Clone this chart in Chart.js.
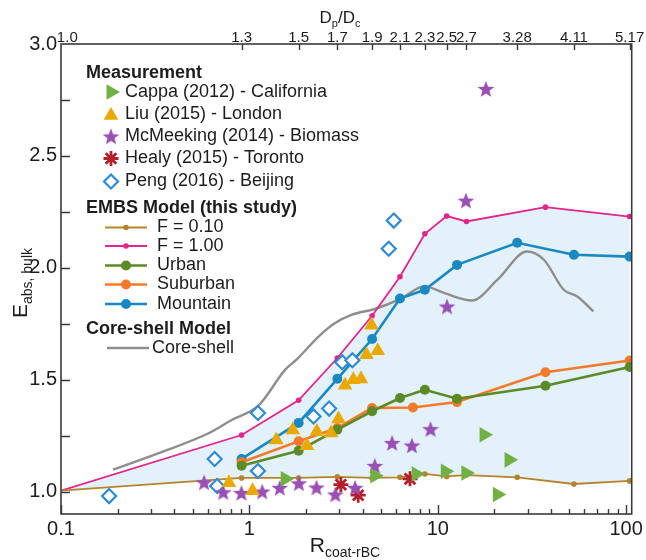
<!DOCTYPE html>
<html>
<head>
<meta charset="utf-8">
<script src="https://cdn.jsdelivr.net/npm/chart.js@4/dist/chart.umd.min.js"></script>
<style>
  html, body { margin: 0; padding: 0; background: #ffffff; }
  #wrap { width: 646px; height: 560px; }
</style>
</head>
<body>
<div id="wrap"><canvas id="c" width="646" height="560"></canvas></div>
<script>
// ---- axis ticks ----
// R_coat-rBC values where the D_p/D_c labels of the top axis sit
const topTickR = [0.108, 0.909, 1.825, 2.93, 4.48, 6.30, 8.54, 11.15, 14.2, 26.4, 52.8, 104.3];
const topTickLabels = ['1.0', '1.3', '1.5', '1.7', '1.9', '2.1', '2.3', '2.5', '2.7', '3.28', '4.11', '5.17'];
const bottomTicks = [0.1, 1, 10, 100];
const bottomTickLabels = ['0.1', '1', '10', '100'];
const yTicks = [1.0, 1.5, 2.0, 2.5, 3.0];

// ---- measurements: [R_coat-rBC, E_abs,bulk] ----
const cappa = [[1.55, 1.057], [4.63, 1.071], [7.68, 1.079], [10.96, 1.091], [14.1, 1.083], [17.6, 1.254], [20.7, 0.987], [23.9, 1.142]];
const liu = [[0.779, 1.040], [1.04, 1.004], [1.39, 1.231], [1.70, 1.275], [2.02, 1.205], [2.28, 1.269], [2.71, 1.262], [2.97, 1.325],
             [3.22, 1.475], [3.56, 1.500], [3.91, 1.503], [4.18, 1.612], [4.45, 1.743], [4.80, 1.629]];
const mcmeeking = [[0.575, 1.041], [0.727, 0.997], [0.907, 0.994], [1.17, 1.000], [1.45, 1.017], [1.83, 1.037], [2.27, 1.018], [2.86, 0.987],
                   [3.64, 1.017], [4.63, 1.115], [5.72, 1.217], [7.29, 1.206], [9.15, 1.279], [11.2, 1.827], [14.1, 2.300], [18.0, 2.799]];
const healy = [[3.06, 1.031], [3.78, 0.984], [7.12, 1.057]];
const peng = [[0.180, 0.980], [0.654, 1.146], [0.674, 1.025], [1.11, 1.092], [1.11, 1.351], [2.19, 1.336], [2.65, 1.371],
              [3.11, 1.578], [3.52, 1.587], [5.49, 2.085], [5.84, 2.211]];

// ---- EMBS model ----
const f010R = [0.1, 0.909, 1.825, 2.93, 4.48, 6.30, 8.54, 11.15, 14.2, 26.4, 52.8, 104.3];
const f010E = [1.004, 1.061, 1.061, 1.066, 1.061, 1.064, 1.079, 1.068, 1.074, 1.064, 1.034, 1.048];
const f100R = [0.1, 0.909, 1.825, 2.93, 4.48, 6.30, 8.54, 11.15, 14.2, 37.3, 104.3];
const f100E = [1.004, 1.253, 1.408, 1.597, 1.786, 1.960, 2.152, 2.231, 2.207, 2.271, 2.229];
const urbanR = [0.909, 1.825, 2.93, 4.48, 6.30, 8.54, 12.65, 37.3, 104.3];
const urbanE = [1.116, 1.183, 1.277, 1.359, 1.418, 1.455, 1.415, 1.473, 1.557];
const suburbanR = [0.909, 1.825, 2.93, 4.48, 7.38, 12.65, 37.3, 104.3];
const suburbanE = [1.131, 1.225, 1.284, 1.374, 1.376, 1.400, 1.533, 1.586];
const mountainR = [0.909, 1.825, 2.93, 4.48, 6.30, 8.54, 12.65, 26.4, 52.8, 104.3];
const mountainE = [1.146, 1.307, 1.504, 1.682, 1.863, 1.902, 2.013, 2.112, 2.058, 2.050];

// ---- core-shell model ----
const coreR = [0.189, 0.333, 0.611, 0.81, 1.12, 1.55, 1.79, 2.33, 2.85, 3.48, 4.63, 6.3, 8.5, 10.85, 15.2, 20.7, 29.8, 36.6, 46.6, 55, 67];
const coreE = [1.098, 1.173, 1.262, 1.321, 1.385, 1.545, 1.592, 1.693, 1.753, 1.790, 1.816, 1.860, 1.917, 1.887, 1.854, 1.946, 2.073, 2.036, 1.902, 1.872, 1.805];

// ---- styling ----
const FONT = "'Liberation Sans', Arial, Helvetica, sans-serif";
const TEXT = '#1c1c1c';
const AXIS = '#3a3a3a';
const COL = {
  cappa: '#72B043', liu: '#E9A900', mcm: '#9A4FB4', healy: '#B2202B', peng: '#2E8BD3',
  f010: '#B3832E', f100: '#E3248D', urban: '#5C8A26', suburban: '#F47A2B', mountain: '#1B89C1',
  core: '#8E8E8E', band: '#E2F1FA'
};

const toPts = a => a.map(([x, y]) => ({ x, y }));
const zip = (xs, ys) => xs.map((x, i) => ({ x, y: ys[i] }));

// filled five-point star used as a point style
function makeStar(r, color) {
  const s = Math.ceil(r * 2 + 2);
  const c = document.createElement('canvas');
  c.width = s; c.height = s;
  const g = c.getContext('2d');
  g.fillStyle = color;
  g.beginPath();
  for (let i = 0; i < 10; i++) {
    const a = -Math.PI / 2 + i * Math.PI / 5;
    const rr = i % 2 ? r * 0.42 : r;
    g.lineTo(s / 2 + rr * Math.cos(a), s / 2 + rr * Math.sin(a) + r * 0.08);
  }
  g.closePath();
  g.fill();
  return c;
}
const starImg = makeStar(8.8, COL.mcm);

const hideFirst = r => (c => (c.dataIndex === 0 ? 0 : r));

const datasets = [
  { label: 'Cappa (2012) - California', data: toPts(cappa), showLine: false, pointStyle: 'triangle', pointRotation: 90,
    pointRadius: 9, pointBackgroundColor: COL.cappa, pointBorderColor: COL.cappa, pointBorderWidth: 0, order: 1 },
  { label: 'Liu (2015) - London', data: toPts(liu), showLine: false, pointStyle: 'triangle',
    pointRadius: 8.5, pointBackgroundColor: COL.liu, pointBorderColor: COL.liu, pointBorderWidth: 0, order: 1 },
  { label: 'McMeeking (2014) - Biomass', data: toPts(mcmeeking), showLine: false, pointStyle: starImg,
    pointRadius: 8, pointBackgroundColor: COL.mcm, pointBorderColor: COL.mcm, pointBorderWidth: 0, order: 1 },
  { label: 'Healy (2015) - Toronto', data: toPts(healy), showLine: false, pointStyle: 'star',
    pointRadius: 7.5, pointBackgroundColor: COL.healy, pointBorderColor: COL.healy, pointBorderWidth: 2.8, order: 1 },
  { label: 'Peng (2016) - Beijing', data: toPts(peng), showLine: false, pointStyle: 'rectRot',
    pointRadius: 7, pointBackgroundColor: '#ffffff', pointBorderColor: COL.peng, pointBorderWidth: 2.2, order: 1 },
  { label: 'F = 0.10', data: zip(f010R, f010E), borderColor: COL.f010, borderWidth: 1.8, fill: false,
    pointRadius: hideFirst(2.8), pointBackgroundColor: COL.f010, pointBorderWidth: 0, order: 3 },
  { label: 'F = 1.00', data: zip(f100R, f100E), borderColor: COL.f100, borderWidth: 1.8,
    fill: 5, backgroundColor: COL.band,
    pointRadius: hideFirst(2.8), pointBackgroundColor: COL.f100, pointBorderWidth: 0, order: 3 },
  { label: 'Urban', data: zip(urbanR, urbanE), borderColor: COL.urban, borderWidth: 2.6, fill: false,
    pointRadius: 5, pointBackgroundColor: COL.urban, pointBorderWidth: 0, order: 2 },
  { label: 'Suburban', data: zip(suburbanR, suburbanE), borderColor: COL.suburban, borderWidth: 2.6, fill: false,
    pointRadius: 5, pointBackgroundColor: COL.suburban, pointBorderWidth: 0, order: 2 },
  { label: 'Mountain', data: zip(mountainR, mountainE), borderColor: COL.mountain, borderWidth: 2.6, fill: false,
    pointRadius: 5, pointBackgroundColor: COL.mountain, pointBorderWidth: 0, order: 2 },
  { label: 'Core-shell', data: zip(coreR, coreE), borderColor: COL.core, borderWidth: 2.4, fill: false,
    pointRadius: 0, cubicInterpolationMode: 'monotone', order: 4 }
];

// text with subscripts, optionally rotated; (x, y) is the baseline centre
function drawRich(ctx, parts, x, y, rot) {
  ctx.save();
  ctx.translate(x, y);
  if (rot) ctx.rotate(rot);
  ctx.textBaseline = 'alphabetic';
  ctx.textAlign = 'left';
  ctx.fillStyle = TEXT;
  let total = 0;
  parts.forEach(p => { ctx.font = p.f + ' ' + FONT; total += ctx.measureText(p.t).width; });
  let cx = -total / 2;
  parts.forEach(p => {
    ctx.font = p.f + ' ' + FONT;
    ctx.fillText(p.t, cx, p.dy || 0);
    cx += ctx.measureText(p.t).width;
  });
  ctx.restore();
}

// frame and inward tick marks
const framePlugin = {
  id: 'frameTicks',
  afterDatasetsDraw(chart) {
    const { ctx, chartArea: a, scales } = chart;
    const x = scales.x, x2 = scales.x2, y = scales.y;
    ctx.save();
    ctx.strokeStyle = AXIS;
    ctx.lineWidth = 1.4;
    ctx.beginPath();
    [0.1, 1, 10].forEach(d => {
      for (let k = 1; k <= 9; k++) {
        const v = d * k;
        if (v > x.max) break;
        const px = Math.round(x.getPixelForValue(v)) + 0.5;
        const len = k === 1 ? 9 : 5;
        ctx.moveTo(px, a.bottom); ctx.lineTo(px, a.bottom - len);
      }
    });
    const p100 = Math.round(x.getPixelForValue(100)) + 0.5;
    ctx.moveTo(p100, a.bottom); ctx.lineTo(p100, a.bottom - 9);
    topTickR.slice(1).forEach(v => {
      const px = Math.round(x2.getPixelForValue(v)) + 0.5;
      ctx.moveTo(px, a.top); ctx.lineTo(px, a.top + 6);
    });
    for (let v = 1.0; v < 3.0; v += 0.25) {
      const py = Math.round(y.getPixelForValue(v)) + 0.5;
      ctx.moveTo(a.left, py); ctx.lineTo(a.left + 9, py);
    }
    ctx.stroke();
    ctx.lineWidth = 1.6;
    ctx.strokeRect(a.left, a.top, a.right - a.left, a.bottom - a.top);
    ctx.restore();
  }
};

function drawMarker(ctx, d, x, y, r) {
  ctx.save();
  ctx.fillStyle = d.pointBackgroundColor;
  ctx.strokeStyle = d.pointBorderColor || d.pointBackgroundColor;
  ctx.lineWidth = d.pointBorderWidth || 0;
  Chart.helpers.drawPoint(ctx, {
    pointStyle: d.pointStyle, rotation: d.pointRotation || 0,
    radius: r, borderWidth: d.pointBorderWidth || 0
  }, x, y);
  ctx.restore();
}

// grouped legend with section headings
const legendPlugin = {
  id: 'groupedLegend',
  afterDraw(chart) {
    const ctx = chart.ctx;
    const ds = chart.data.datasets;
    ctx.save();
    ctx.textBaseline = 'middle';
    ctx.textAlign = 'left';
    const head = (t, yy) => { ctx.font = 'bold 18px ' + FONT; ctx.fillStyle = TEXT; ctx.fillText(t, 86, yy); };
    const item = (t, xx, yy) => { ctx.font = '18px ' + FONT; ctx.fillStyle = TEXT; ctx.fillText(t, xx, yy); };

    head('Measurement', 73);
    const mRows = [92, 114, 136.5, 158.5, 181.5];
    const mRad = [9, 8.5, 8, 7.5, 7];
    [0, 1, 2, 3, 4].forEach((i, k) => {
      drawMarker(ctx, ds[i], 111, mRows[k] + (i === 1 ? 1.5 : 0), mRad[k]);
      item(ds[i].label, 125, mRows[k]);
    });

    head('EMBS Model (this study)', 208);
    const lRows = [227.5, 246, 265.5, 284.5, 304];
    [5, 6, 7, 8, 9].forEach((i, k) => {
      const yy = lRows[k];
      ctx.strokeStyle = ds[i].borderColor;
      ctx.lineWidth = ds[i].borderWidth;
      ctx.beginPath(); ctx.moveTo(105, yy); ctx.lineTo(147, yy); ctx.stroke();
      ctx.fillStyle = ds[i].borderColor;
      ctx.beginPath(); ctx.arc(126, yy, i < 7 ? 2.8 : 5, 0, Math.PI * 2); ctx.fill();
      item(ds[i].label, 157, yy);
    });

    head('Core-shell Model', 329.5);
    ctx.strokeStyle = ds[10].borderColor;
    ctx.lineWidth = ds[10].borderWidth;
    ctx.beginPath(); ctx.moveTo(107, 348); ctx.lineTo(149, 348); ctx.stroke();
    item(ds[10].label, 152, 348);
    ctx.restore();
  }
};

// axis titles with subscripts
const titlePlugin = {
  id: 'axisTitles',
  afterDraw(chart) {
    const ctx = chart.ctx;
    drawRich(ctx, [{ t: 'E', f: '21px' }, { t: 'abs, bulk', f: '14px', dy: 5 }], 27, 283, -Math.PI / 2);
    drawRich(ctx, [{ t: 'R', f: '21px' }, { t: 'coat-rBC', f: '14px', dy: 5 }], 345, 552, 0);
    drawRich(ctx, [{ t: 'D', f: '17px' }, { t: 'p', f: '11px', dy: 4 }, { t: '/D', f: '17px' }, { t: 'c', f: '11px', dy: 4 }], 340, 23, 0);
  }
};

Chart.defaults.font.family = FONT;
Chart.defaults.color = TEXT;

new Chart(document.getElementById('c').getContext('2d'), {
  type: 'line',
  data: { datasets },
  options: {
    responsive: false,
    animation: false,
    devicePixelRatio: 1,
    layout: { padding: { left: 0, right: 11, top: 0, bottom: 0 } },
    plugins: {
      legend: { display: false },
      tooltip: { enabled: false },
      filler: { drawTime: 'beforeDatasetsDraw' }
    },
    scales: {
      x: {
        type: 'logarithmic', position: 'bottom', min: 0.1, max: 107,
        grid: { display: false, drawTicks: false, tickLength: 0 },
        border: { display: false },
        afterBuildTicks: s => { s.ticks = bottomTicks.map(v => ({ value: v })); },
        afterFit: s => { s.height = 46; },
        ticks: {
          autoSkip: false, maxRotation: 0, minRotation: 0, padding: 3,
          font: { size: 20 }, color: TEXT,
          callback: (v, i) => bottomTickLabels[i]
        }
      },
      x2: {
        type: 'logarithmic', position: 'top', min: 0.1, max: 107,
        grid: { display: false, drawTicks: false, tickLength: 0 },
        border: { display: false },
        afterBuildTicks: s => { s.ticks = topTickR.map(v => ({ value: v })); },
        afterFit: s => { s.height = 44; },
        ticks: {
          autoSkip: false, maxRotation: 0, minRotation: 0, padding: -3,
          font: { size: 15 }, color: TEXT,
          callback: (v, i) => topTickLabels[i]
        }
      },
      y: {
        type: 'linear', position: 'left', min: 0.9, max: 3.0,
        grid: { display: false, drawTicks: false, tickLength: 0 },
        border: { display: false },
        afterBuildTicks: s => { s.ticks = yTicks.map(v => ({ value: v })); },
        afterFit: s => { s.width = 61; },
        ticks: {
          padding: 4, font: { size: 20 }, color: TEXT,
          callback: v => Number(v).toFixed(1)
        }
      }
    }
  },
  plugins: [framePlugin, legendPlugin, titlePlugin]
});
</script>
</body>
</html>
